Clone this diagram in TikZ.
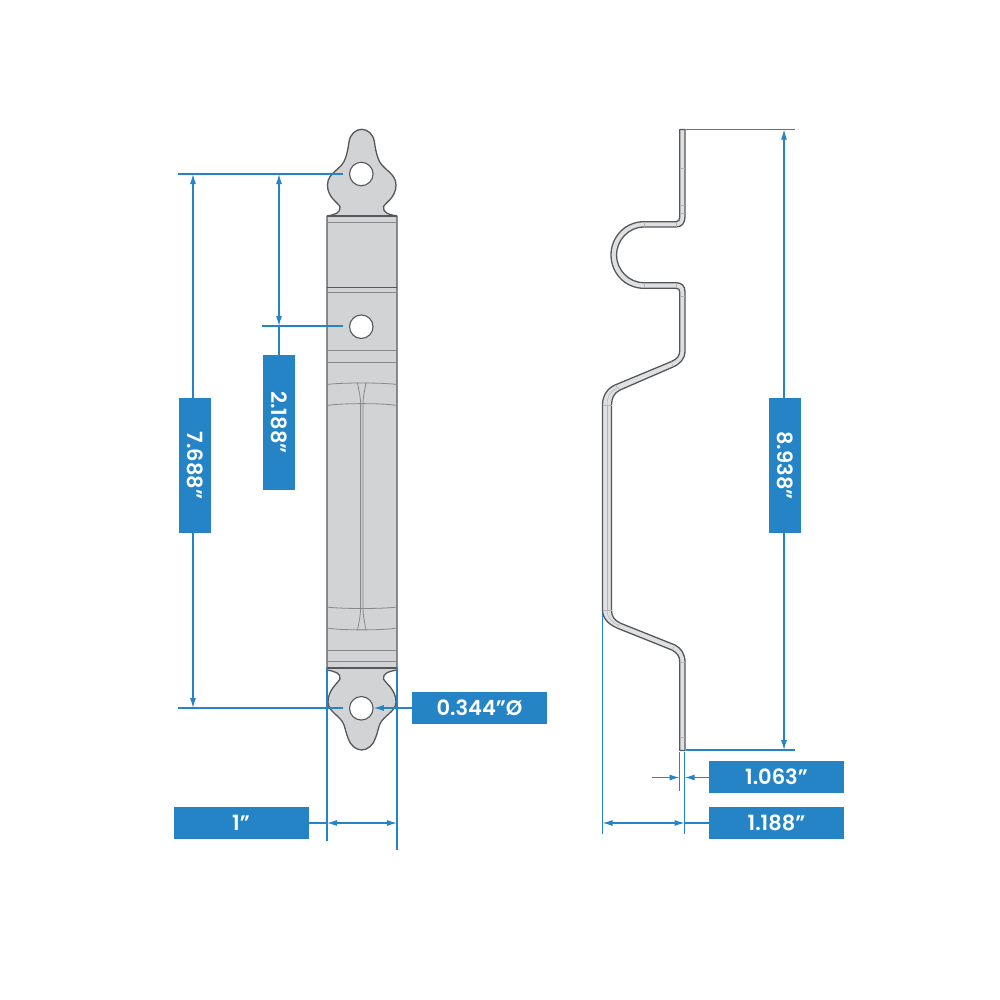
\documentclass[tikz,border=0pt]{standalone}
\usepackage{fontspec}
\setmainfont{Poppins}[BoldFont={Poppins SemiBold}]
\usetikzlibrary{arrows.meta}
\definecolor{dimcol}{HTML}{2484C6}
\definecolor{platecol}{HTML}{D1D3D4}
\definecolor{stripcol}{HTML}{DFE0E1}
\definecolor{edgecol}{HTML}{55575A}
\tikzset{
  dimbox/.style={fill=dimcol,text=white,inner sep=0pt,minimum width=135bp,minimum height=32bp,font=\fontsize{21bp}{23bp}\selectfont\bfseries},
  dimline/.style={draw=dimcol,line width=1.1bp},
  dimarrow/.style={dimline,-{Latex[length=10bp,width=6bp]}},
  plateedge/.style={draw=edgecol,line width=1.3bp,line join=round},
  platefold/.style={draw=edgecol!70,line width=1bp},
  stripedge/.style={draw=edgecol,line width=1.3bp,line join=round},
  striptick/.style={draw=edgecol!45,line width=0.5bp},
}
\begin{document}
\begin{tikzpicture}[x=1bp,y=-1bp]
\useasboundingbox (0,0) rectangle (1000,1000);
\fill[white] (0,0) rectangle (1000,1000);
%% front view
\filldraw[fill=platecol,plateedge] (327,216)
  .. controls (335,214.5) and (341,213) .. (340,206.5)
  .. controls (337,202) and (327.5,197) .. (327.5,185)
  .. controls (327.5,172) and (342,170) .. (345.5,158)
  .. controls (348,150) and (348,148) .. (349,142)
  .. controls (350,134) and (356,129.3) .. (361.7,129.3)
  .. controls (367.4,129.3) and (373.4,134) .. (374.4,142)
  .. controls (375.4,148) and (375.4,150) .. (378,158)
  .. controls (381.5,170) and (396,172) .. (396,185)
  .. controls (396,197) and (386.5,202) .. (383.5,206.5)
  .. controls (382.5,213) and (389,214.5) .. (397,216)
  -- (397,668) -- (397,670)
  .. controls (389,671.5) and (382.5,673) .. (383.5,679)
  .. controls (386.5,684) and (396,690) .. (396,702)
  .. controls (396,712) and (382.5,716) .. (379.5,725)
  .. controls (377.5,731) and (377.5,733) .. (375.5,738)
  .. controls (373.5,745) and (367.4,750) .. (361.7,750)
  .. controls (356,750) and (350,745) .. (348,738)
  .. controls (346,733) and (346,731) .. (344,725)
  .. controls (341,716) and (328,712) .. (328,702)
  .. controls (328,690) and (337,684) .. (340,679)
  .. controls (341,673) and (335,671.5) .. (327,670)
  -- cycle;
% fold lines
\foreach \yy in {216,287.5,668} {
  \draw[plateedge] (327,\yy) -- (397,\yy);
}
\foreach \yy in {222,292,350.7,362,650,661.5} {
  \draw[platefold] (327,\yy) -- (397,\yy);
}
\draw[platefold,line width=0.8bp] (327,384.5) .. controls (340,382.5) and (384,382.5) .. (397,384.5);
\draw[platefold,line width=0.8bp] (327,405.5) .. controls (340,403) and (384,403) .. (397,405.5);
\draw[platefold,line width=0.8bp] (327,607) .. controls (340,609) and (384,609) .. (397,607);
\draw[platefold,line width=0.8bp] (327,628) .. controls (340,630.5) and (384,630.5) .. (397,628);
% centre slit
\draw[platefold,line width=0.8bp] (357.5,382.5) .. controls (359,392) and (360.6,396) .. (360.6,405) -- (360.6,607) .. controls (360.6,616) and (359,622) .. (357.5,630);
\draw[platefold,line width=0.8bp] (366,382.5) .. controls (364.5,392) and (363,396) .. (363,405) -- (363,607) .. controls (363,616) and (364.5,622) .. (366,630);
% holes
\node[circle,draw=edgecol,line width=1.1bp,fill=white,minimum size=23.5bp,inner sep=0pt] (holetop) at (361.3,174) {};
\node[circle,draw=edgecol,line width=1.1bp,fill=white,minimum size=23.5bp,inner sep=0pt] (holemid) at (361.3,326.7) {};
\node[circle,draw=edgecol,line width=1.1bp,fill=white,minimum size=23.5bp,inner sep=0pt] (holelow) at (361.3,708.3) {};
%% side view
\filldraw[fill=stripcol,stripedge] (679.8,129.5) -- (685,129.5) -- (685,216.5)
  .. controls (685,223) and (682,227) .. (676,227)
  -- (644,227)
  .. controls (628,227) and (616.5,241) .. (616.5,255)
  .. controls (616.5,269) and (628,282.7) .. (644,282.7)
  -- (676,282.7)
  .. controls (682,282.7) and (685,286) .. (685,292)
  -- (685,351)
  .. controls (685,359) and (680,364) .. (673,367)
  -- (620,390)
  .. controls (614,393) and (611.5,398) .. (611.5,405)
  -- (611.5,610)
  .. controls (611.5,616) and (614,620) .. (620,623)
  -- (675,645)
  .. controls (681,648) and (685,654) .. (685,662)
  -- (685,750.5) -- (679.8,750.5) -- (679.8,662)
  .. controls (679.8,656) and (677,653) .. (672,650)
  -- (617,628)
  .. controls (608,624) and (602.5,618) .. (602.5,610)
  -- (602.5,405)
  .. controls (602.5,395) and (608,388) .. (615,385)
  -- (671.5,361.5)
  .. controls (677,359) and (679.8,356) .. (679.8,350)
  -- (679.8,292)
  .. controls (679.8,289.5) and (678.5,288.3) .. (676,288.3)
  -- (644,288.3)
  .. controls (625,288.3) and (611,273) .. (611,255)
  .. controls (611,237) and (625,221.7) .. (644,221.7)
  -- (676,221.7)
  .. controls (678.5,221.7) and (679.8,220) .. (679.8,217)
  -- cycle;
\draw[striptick] (607,405) -- (607,610);
\draw[striptick] (607,405) .. controls (607,396) and (611,390.5) .. (617.5,387.5);
\draw[striptick] (607,610) .. controls (607,617) and (611,622) .. (618.5,625.5);
% bend marks
\draw[striptick] (679.8,168) -- (685,168);
\draw[striptick] (679.8,205) -- (685,205);
\draw[striptick] (679.8,213) -- (685,213);
\draw[striptick] (676.7,221.7) -- (676.7,227);
\draw[striptick] (644,221.7) -- (644,227);
\draw[striptick] (644,282.7) -- (644,288.3);
\draw[striptick] (676,282.7) -- (676,288.3);
\draw[striptick] (679.8,296) -- (685,296);
\draw[striptick] (671.5,361.5) -- (673,367);
\draw[striptick] (615,385) -- (620,390);
\draw[striptick] (602.5,405) -- (611.5,405);
\draw[striptick] (602.5,610) -- (611.5,610);
\draw[striptick] (617,628) -- (620,623);
\draw[striptick] (672,650) -- (675,645);
\draw[striptick] (679.8,662) -- (685,662);
\draw[striptick] (679.8,737) -- (685,737);
%% dimension boxes
\node[dimbox,rotate=-90] (boxa) at (195,465.5) {7.688”};
\node[dimbox,rotate=-90] (boxb) at (279,422.5) {2.188”};
\node[dimbox,rotate=-90] (boxc) at (785,465.5) {8.938”};
\node[dimbox] (boxd) at (479.5,708) {0.344”Ø};
\node[dimbox] (boxe) at (776.5,777) {1.063”};
\node[dimbox] (boxf) at (776.5,823) {1.188”};
\node[dimbox] (boxg) at (241,823) {1”};
%% free ends
\coordinate (atop) at (193,174);
\coordinate (alow) at (193,708);
\coordinate (btop) at (279,174);
\coordinate (blow) at (279,326);
\coordinate (ctop) at (784,129.5);
\coordinate (clow) at (784,750);
\coordinate (fronta) at (327,823);
\coordinate (frontb) at (397,823);
\coordinate (sidea) at (602.5,823);
\coordinate (sideb) at (684.7,823);
\coordinate (sidec) at (679.5,777.5);
\coordinate (sided) at (684.7,777.5);
\coordinate (sidee) at (652,777.5);
\coordinate (holetip) at (373.8,708);
%% extension lines
\draw[dimline] (178,174) -- (343,174);
\draw[dimline] (178,708) -- (343,708);
\draw[dimline] (262,326) -- (343,326);
\draw[dimline] (686,129.5) -- (795,129.5);
\draw[dimline] (686,750) -- (795,750);
\draw[dimline] (327,668) -- (327,841);
\draw[dimline] (397,668) -- (397,850);
\draw[dimline] (602.5,614) -- (602.5,834);
\draw[dimline] (684.7,752) -- (684.7,834);
\draw[dimline] (679.5,752) -- (679.5,790.5);
%% dimension lines
\draw[dimarrow] (boxa.west -| atop) -- (atop);
\draw[dimarrow] (boxa.east -| alow) -- (alow);
\draw[dimarrow] (279,250) -- (btop);
\draw[dimarrow] (279,250) -- (blow);
\draw[dimline] (blow) -- (boxb.west);
\draw[dimarrow] (boxc.west -| ctop) -- (ctop);
\draw[dimarrow] (boxc.east -| clow) -- (clow);
\draw[dimarrow] (boxd.west) -- (holetip);
\draw[dimline] (boxg.east) -- (fronta);
\draw[dimarrow] (362,823) -- (fronta);
\draw[dimarrow] (362,823) -- (frontb);
\draw[dimline] (boxf.west) -- (sideb);
\draw[dimarrow] (645,823) -- (sidea);
\draw[dimarrow] (645,823) -- (sideb);
\draw[dimarrow] (sidee) -- (sidec);
\draw[dimarrow] (boxe.west |- sided) -- (sided);
\end{tikzpicture}
\end{document}
